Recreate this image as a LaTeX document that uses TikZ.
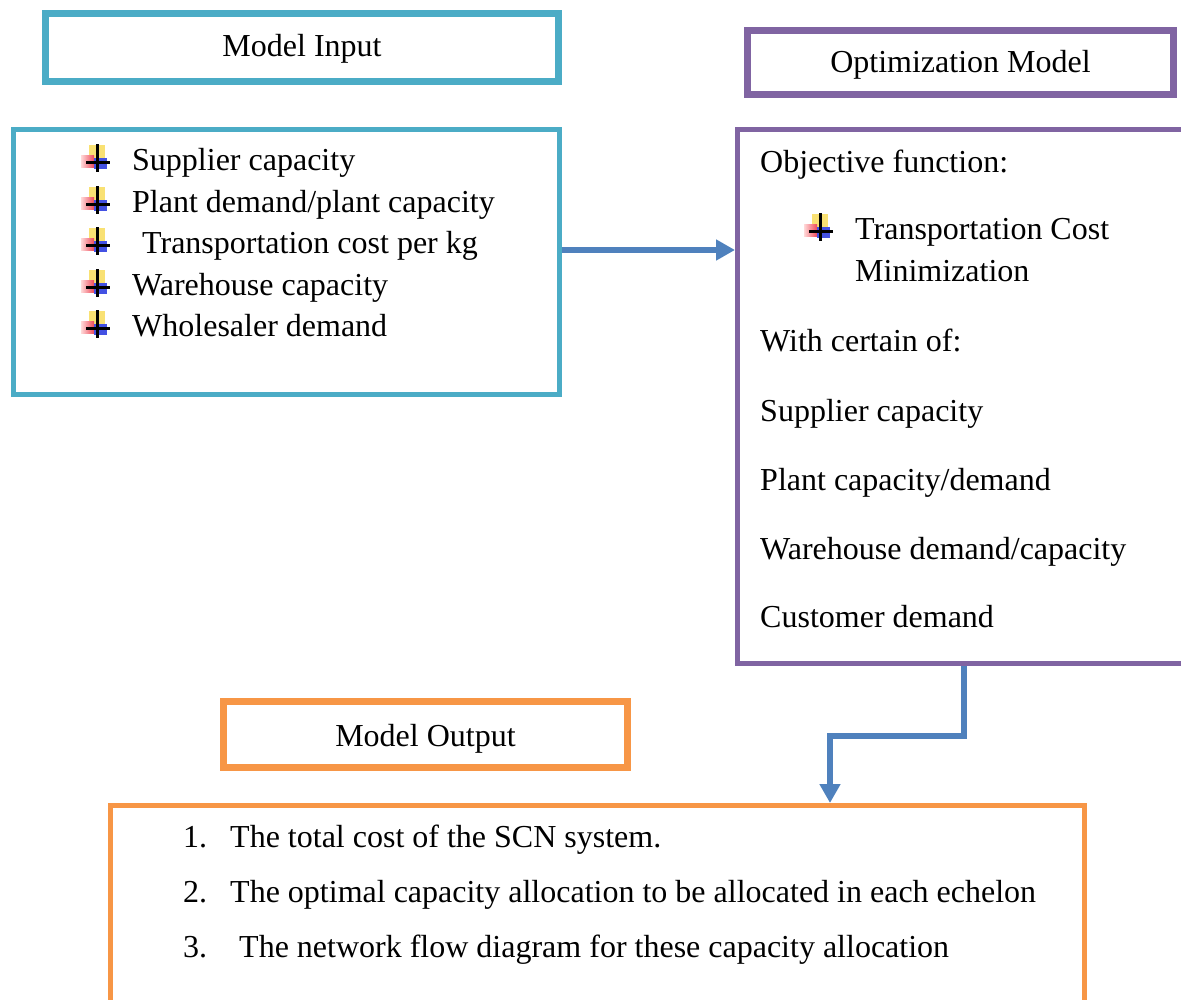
\documentclass[tikz,border=0pt]{standalone}
\usepackage{fontspec}
\setmainfont{Liberation Serif}
\usetikzlibrary{arrows.meta}
\definecolor{inputcol}{HTML}{4BACC6}
\definecolor{modelcol}{HTML}{8064A2}
\definecolor{outputcol}{HTML}{F79646}
\definecolor{flowcol}{HTML}{4F81BD}
\definecolor{bulyel}{HTML}{F8DC5A}
\definecolor{bulred}{HTML}{EE4A5A}
\definecolor{bulblue}{HTML}{2E3EE0}
\tikzset{
  hdr/.style={draw=#1, line width=7pt, rectangle, inner sep=0pt},
  body/.style={draw=#1, line width=5pt, rectangle, inner sep=0pt},
  lbl/.style={anchor=base, inner sep=0pt, font=\fontsize{32}{38}\selectfont},
  txt/.style={anchor=base west, inner sep=0pt, font=\fontsize{32}{38}\selectfont},
  conn/.style={draw=flowcol, line width=6pt, line join=miter,
    -{Triangle[length=19pt,width=20pt]}},
  qmark/.pic={
    \fill[bulyel!85] (-6,-15) rectangle (10,-1);
    \shade[left color=red!15, right color=bulred] (-14,-4) rectangle (-1,8);
    \fill[bulblue!90] (-1,-2) rectangle (12,9);
    \fill[black] (0.5,-16) rectangle (3.5,12);
    \fill[black] (-9,1.5) rectangle (15,4.5);
  }
}
\begin{document}
\begin{tikzpicture}[x=1pt,y=-1pt]
\useasboundingbox (0,0) rectangle (1181,1000);
\clip (0,0) rectangle (1181,1000);

% input block
\node[hdr=inputcol, minimum width=513pt, minimum height=68pt] (inhead) at (302,47.5) {};
\node[lbl] (inheadtxt) at (302,57) {Model Input};
\node[body=inputcol, minimum width=546pt, minimum height=265pt] (inbody) at (286.5,262) {};
\foreach \yy/\name/\xx/\lab in {171/ia/132/{Supplier capacity},
                               213/ib/132/{Plant demand/plant capacity},
                               254/ic/142/{Transportation cost per kg},
                               296/id/132/{Warehouse capacity},
                               337/ie/132/{Wholesaler demand}}{
  \pic at (95,\yy-11) {qmark};
  \node[txt] (\name) at (\xx,\yy) {\lab};
}

% optimization block
\node[hdr=modelcol, minimum width=426pt, minimum height=64pt] (opthead) at (960.5,62.5) {};
\node[lbl] (optheadtxt) at (960.5,73) {Optimization Model};
\node[body=modelcol, minimum width=470pt, minimum height=533.5pt] (optbody) at (972.5,396.75) {};
\node[txt] (obj) at (760,173) {Objective function:};
\pic at (818,229) {qmark};
\node[txt] (tc1) at (855,240) {Transportation Cost};
\node[txt] (tc2) at (855,282) {Minimization};
\node[txt] (wc) at (760,352) {With certain of:};
\node[txt] (c1) at (760,421) {Supplier capacity};
\node[txt] (c2) at (760,490) {Plant capacity/demand};
\node[txt] (c3) at (760,559) {Warehouse demand/capacity};
\node[txt] (c4) at (760,627) {Customer demand};

% output block
\node[hdr=outputcol, minimum width=404pt, minimum height=66pt] (outhead) at (425.5,734.5) {};
\node[lbl] (outheadtxt) at (425.5,746) {Model Output};
\node[body=outputcol, minimum width=974pt, minimum height=230pt] (outbody) at (597.5,920.5) {};
\node[txt] (n1) at (183,847) {1.};
\node[txt] (o1) at (230,847) {The total cost of the SCN system.};
\node[txt] (n2) at (183,902) {2.};
\node[txt] (o2) at (230,902) {The optimal capacity allocation to be allocated in each echelon};
\node[txt] (n3) at (183,957) {3.};
\node[txt] (o3) at (239,957) {The network flow diagram for these capacity allocation};

% connectors
\coordinate (bend) at (830,736);
\draw[conn] (inbody.east |- 0,250) -- (optbody.west |- 0,250);
\draw[conn] (optbody.south -| 964,0) |- (bend) -- (outbody.north -| bend);
\end{tikzpicture}
\end{document}
